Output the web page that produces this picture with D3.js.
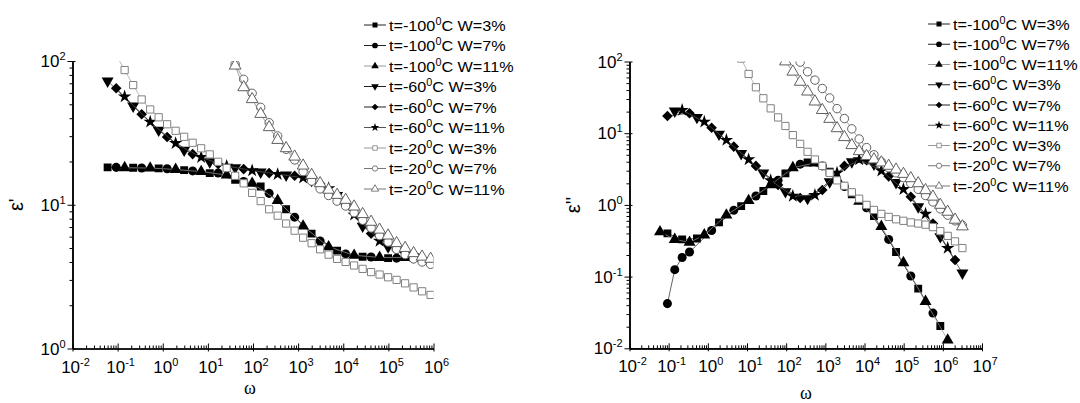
<!DOCTYPE html>
<html>
<head>
<meta charset="utf-8">
<script src="https://cdn.jsdelivr.net/npm/d3@7"></script>
<style>
body { margin: 0; background: #fff; }
text { font-family: "Liberation Sans", Arial, sans-serif; fill: #000; }
</style>
</head>
<body>
<svg id="chart" width="1080" height="403"></svg>
<script>
//** data **//
var _ = null;

// common frequency grid (omega)
var freq = [0.06, 0.093, 0.143, 0.221, 0.341, 0.527, 0.812, 1.25, 1.93, 2.98, 4.6, 7.1, 11, 16.9, 26.1, 40.2, 62.1, 95.7,
    148, 228, 352, 542, 837, 1290, 1990, 3070, 4740, 7310, 11300, 17400, 26900, 41400, 63900, 98600, 152000, 235000,
    362000, 559000, 862000, 1330000, 2050000, 3160000];

// legend
var temps = ["-100", "-100", "-100", "-60", "-60", "-60", "-20", "-20", "-20"];
var waters = ["3", "7", "11", "3", "7", "11", "3", "7", "11"];

// ticks (powers of ten)
var xDecL = [-2, -1, 0, 1, 2, 3, 4, 5, 6];
var yDecL = [0, 1, 2];
var xDecR = [-2, -1, 0, 1, 2, 3, 4, 5, 6, 7];
var yDecR = [-2, -1, 0, 1, 2];

// eps' (left)
var e1_100_3 = [18.2,_,_,18.1,_,_,17.9,_,_,17.4,_,_,16.6,_,_,14.9,_,_,13.4,_,_,9.3,_,_,6.3,_,_,4.8,_,_,4.35,_,_,4.25,_,_,4.25];
var e1_100_7 = [_,18.2,_,_,18.0,_,_,17.8,_,_,17.2,_,_,16.6,_,_,14.5,_,_,12.0,_,_,8.2,_,_,5.6,_,_,4.55,_,_,4.33,_,_,4.25];
var e1_100_11 = [_,_,18.1,_,_,18.0,_,_,17.6,_,_,17.0,_,_,16.1,_,_,14.1,_,_,10.7,_,_,7.1,_,_,5.1,_,_,4.45,_,_,4.3,_,_,4.3];
var e1_60_3 = [72.6,_,_,48.6,_,_,33.0,_,_,24.0,_,_,19.9,_,_,18.1,_,_,16.9,_,_,16.1,_,_,14.8,_,_,11.6,_,_,7.1,_,_,5.1,_,_,4.35];
var e1_60_7 = [_,64.6,_,_,42.6,_,_,29.6,_,_,22.5,_,_,19.2,_,_,17.7,_,_,16.6,_,_,15.9,_,_,14.0,_,_,10.0,_,_,6.3,_,_,4.85,_,_,4.2];
var e1_60_11 = [_,_,56.5,_,_,37.7,_,_,26.8,_,_,21.4,_,_,18.6,_,_,17.3,_,_,16.3,_,_,15.4,_,_,13.0,_,_,8.5,_,_,5.6,_,_,4.55,_,_,4.1];
var e1_20_3 = [_,110,86.5,68,54,46,40.6,36.3,32.7,29.7,27,24.7,22.4,19.9,18.0,15.9,14.1,12.1,10.6,9.3,8.4,7.4,6.6,5.9,5.4,
    4.9,4.5,4.2,4.0,3.78,3.58,3.4,3.27,3.13,3.0,2.84,2.66,2.5,2.36];
var e1_20_7 = [_,_,_,_,_,_,_,_,_,_,_,_,_,_,125,95,74.6,59.6,47.6,37.2,30.1,24.3,20.5,17.0,14.6,12.9,11.6,10.6,9.8,8.8,
    7.8,6.9,6.1,5.5,4.9,4.5,4.2,4.0,3.85];
var e1_20_11 = [_,_,_,_,_,_,_,_,_,_,_,_,_,_,128,92.8,65.6,54.2,42.8,34.6,28.2,24.7,21.6,18.7,16.1,14.1,12.7,11.7,10.8,9.7,
    8.6,7.6,6.7,6.1,5.4,5.0,4.6,4.35,4.2];

// eps'' (right)
var e2_100_3 = [_,0.40,_,0.33,_,0.34,_,_,0.57,_,_,0.96,_,_,1.56,_,_,2.75,_,_,3.9,_,_,2.9,_,_,1.4,_,_,0.70,_,_,0.22,_,_,0.068,_,_,0.0205];
var e2_100_7 = [_,0.042,0.125,0.185,0.22,_,_,0.44,_,_,0.84,_,_,1.33,_,_,2.2,_,_,3.7,_,_,3.5,_,_,1.8,_,_,0.91,_,_,0.33,_,_,0.102,_,_,0.031];
var e2_100_11 = [0.42,_,0.33,_,0.30,_,0.38,_,_,0.72,_,_,1.15,_,_,1.9,_,_,3.3,_,_,3.85,_,_,2.3,_,_,1.12,_,_,0.50,_,_,0.156,_,_,0.045,_,_,0.013];
var e2_60_3 = [_,_,20.4,_,_,16.6,_,_,9.7,_,_,5.2,_,_,2.8,_,_,1.53,_,_,1.23,_,_,2.1,_,_,4.0,_,_,3.7,_,_,2.05,_,_,0.94,_,_,0.36,_,_,0.112];
var e2_60_7 = [_,17.4,_,_,19,_,_,11.9,_,_,6.5,_,_,3.5,_,_,1.9,_,_,1.25,_,_,1.61,_,_,3.5,_,_,4.2,_,_,2.5,_,_,1.3,_,_,0.55,_,_,0.17];
var e2_60_11 = [_,_,_,21,_,_,14.4,_,_,8.0,_,_,4.3,_,_,2.2,_,_,1.33,_,_,1.37,_,_,2.8,_,_,4.3,_,_,3.0,_,_,1.65,_,_,0.75,_,_,0.25];
var e2_20_3 = [_,_,_,_,_,_,_,_,_,_,_,110,67,43.7,30.7,22.2,16.6,12.6,9.4,7.1,5.5,4.3,3.5,2.8,2.2,1.85,1.5,1.22,1.0,0.85,
    0.75,0.68,0.63,0.6,0.57,0.55,0.53,0.49,0.43,0.37,0.31,0.25];
var e2_20_7 = [_,_,_,_,_,_,_,_,_,_,_,_,_,_,_,_,_,_,130,98,72,55,42,31,22,16,11.5,8.3,6.3,5.0,4.0,3.3,2.8,2.4,2.0,1.65,
    1.35,1.1,0.88,0.72,0.6,0.52];
var e2_20_11 = [_,_,_,_,_,_,_,_,_,_,_,_,_,_,_,_,140,100,72,52,38,27.6,21,15.8,11.7,8.8,6.8,5.6,4.8,4.3,3.9,3.5,3.1,2.7,
    2.35,2.0,1.6,1.3,1.0,0.8,0.62,0.5];

//** marker styles, one per legend row **//
var styles = [
    {sym: d3.symbolSquare,   rot: 0,   size: 62, fill: "#000", stroke: "none", line: "#222"},
    {sym: d3.symbolCircle,   rot: 0,   size: 64, fill: "#000", stroke: "none", line: "#222"},
    {sym: d3.symbolTriangle, rot: 0,   size: 62, fill: "#000", stroke: "none", line: "#999"},
    {sym: d3.symbolTriangle, rot: 180, size: 62, fill: "#000", stroke: "none", line: "#222"},
    {sym: d3.symbolSquare,   rot: 45,  size: 56, fill: "#000", stroke: "none", line: "#222"},
    {sym: d3.symbolStar,     rot: 0,   size: 56, fill: "#000", stroke: "none", line: "#555"},
    {sym: d3.symbolSquare,   rot: 0,   size: 52, fill: "#fff", stroke: "#808080", line: "#999"},
    {sym: d3.symbolCircle,   rot: 0,   size: 56, fill: "#fff", stroke: "#606060", line: "#777"},
    {sym: d3.symbolTriangle, rot: 0,   size: 60, fill: "#fff", stroke: "#606060", line: "#777"}
];

var svg = d3.select("#chart");

var panels = [
    {id: "L", x0: 72.5, x1: 433.5, yTop: 61, yBot: 348.5, xDom: [1e-2, 1e6], yDom: [1, 100],
     xDec: xDecL, yDec: yDecL, series: [e1_100_3, e1_100_7, e1_100_11, e1_60_3, e1_60_7, e1_60_11, e1_20_3, e1_20_7, e1_20_11],
     yTitle: "\u03b5'", titleX: 23, wX: 250, wY: 394, legX: 364, legY: 25, legStep: 20.5},
    {id: "R", x0: 629.5, x1: 982, yTop: 61.5, yBot: 348.3, xDom: [1e-2, 1e7], yDom: [1e-2, 100],
     xDec: xDecR, yDec: yDecR, series: [e2_100_3, e2_100_7, e2_100_11, e2_60_3, e2_60_7, e2_60_11, e2_20_3, e2_20_7, e2_20_11],
     yTitle: "\u03b5''", titleX: 580, wX: 806, wY: 399, legX: 928, legY: 24, legStep: 20.25}
];

function tenPow(sel, e, supSize, dy) {
    sel.append("tspan").text("10");
    sel.append("tspan").attr("dy", dy).attr("font-size", supSize).text(e);
}

panels.forEach(function(p) {
    var x = d3.scaleLog().domain(p.xDom).range([p.x0, p.x1]);
    var y = d3.scaleLog().domain(p.yDom).range([p.yBot, p.yTop]);
    var g = svg.append("g");

    // clip to plot area
    svg.append("clipPath").attr("id", "clip" + p.id)
        .append("rect").attr("x", p.x0).attr("y", p.yTop)
        .attr("width", p.x1 - p.x0).attr("height", p.yBot - p.yTop);

    // minor / major ticks
    var xMinor = x.ticks().filter(function(d) { return Math.abs(Math.log10(d) - Math.round(Math.log10(d))) > 1e-6; });
    var yMinor = y.ticks().filter(function(d) { return Math.abs(Math.log10(d) - Math.round(Math.log10(d))) > 1e-6; });
    var xMajor = p.xDec.map(function(e) { return Math.pow(10, e); });
    var yMajor = p.yDec.map(function(e) { return Math.pow(10, e); });

    var xa = g.append("g").attr("transform", "translate(0," + p.yBot + ")");
    xa.append("g").call(d3.axisBottom(x).tickValues(xMinor).tickSizeInner(-3).tickSizeOuter(0).tickFormat(""));
    xa.append("g").call(d3.axisBottom(x).tickValues(xMajor).tickSizeInner(-5).tickSizeOuter(0).tickFormat(""));
    xa.append("g").call(d3.axisBottom(x).tickValues(xMajor).tickSizeInner(3).tickSizeOuter(0).tickFormat(""));

    var ya = g.append("g").attr("transform", "translate(" + p.x0 + ",0)");
    ya.append("g").call(d3.axisLeft(y).tickValues(yMinor).tickSizeInner(3).tickSizeOuter(0).tickFormat(""));
    ya.append("g").call(d3.axisLeft(y).tickValues(yMajor).tickSizeInner(5).tickSizeOuter(0).tickFormat(""));
    ya.append("g").call(d3.axisLeft(y).tickValues(yMajor).tickSizeInner(-3).tickSizeOuter(0).tickFormat(""));
    g.selectAll(".domain").attr("stroke", "#000").attr("stroke-width", 1.2);
    g.selectAll(".tick line").attr("stroke", "#000").attr("stroke-width", 1);

    // tick labels
    p.xDec.forEach(function(e) {
        var t = g.append("text").attr("x", x(Math.pow(10, e)) + 3).attr("y", p.yBot + 24)
            .attr("text-anchor", "middle").attr("font-size", 17);
        tenPow(t, e, 11, -7);
    });
    p.yDec.forEach(function(e) {
        var t = g.append("text").attr("x", p.x0 - 7).attr("y", y(Math.pow(10, e)) + 6)
            .attr("text-anchor", "end").attr("font-size", 17);
        tenPow(t, e, 11, -7);
    });

    // axis titles
    g.append("text").attr("transform", "translate(" + p.titleX + "," + ((p.yTop + p.yBot) / 2) + ") rotate(-90)")
        .attr("text-anchor", "middle").attr("font-size", 20).text(p.yTitle);
    g.append("text").attr("x", p.wX).attr("y", p.wY).attr("text-anchor", "middle")
        .attr("font-size", 18).style("font-family", "'Liberation Serif', serif").text("\u03c9");

    // series
    var plot = g.append("g").attr("clip-path", "url(#clip" + p.id + ")");
    var line = d3.line().x(function(d) { return x(d.w); }).y(function(d) { return y(d.v); });

    p.series.forEach(function(vals, k) {
        var st = styles[k];
        var pts = [];
        vals.forEach(function(v, i) { if (v !== null) pts.push({w: freq[i], v: v}); });
        plot.append("path").datum(pts).attr("d", line)
            .attr("fill", "none").attr("stroke", st.line).attr("stroke-width", 0.7);
        plot.selectAll(".m" + k).data(pts).enter().append("path")
            .attr("class", "m" + k)
            .attr("d", d3.symbol().type(st.sym).size(st.size))
            .attr("transform", function(d) { return "translate(" + x(d.w) + "," + y(d.v) + ") rotate(" + st.rot + ")"; })
            .attr("fill", st.fill).attr("stroke", st.stroke).attr("stroke-width", 1);
    });

    // legend
    var leg = g.append("g");
    temps.forEach(function(t, k) {
        var st = styles[k];
        var ly = p.legY + k * p.legStep;
        leg.append("line").attr("x1", p.legX).attr("x2", p.legX + 22).attr("y1", ly).attr("y2", ly)
            .attr("stroke", st.line).attr("stroke-width", 1);
        leg.append("path").attr("d", d3.symbol().type(st.sym).size(st.size * 0.4))
            .attr("transform", "translate(" + (p.legX + 11) + "," + ly + ") rotate(" + st.rot + ")")
            .attr("fill", st.fill).attr("stroke", st.stroke).attr("stroke-width", 0.8);
        var txt = leg.append("g").attr("transform", "translate(" + (p.legX + 25) + "," + (ly + 5.5) + ") scale(1.08,1)")
            .append("text").attr("font-size", 15);
        txt.append("tspan").text("t=" + t);
        txt.append("tspan").attr("dy", -6).attr("font-size", 10).text("0");
        txt.append("tspan").attr("dy", 6).text("C W=" + waters[k] + "%");
    });
});
</script>
</body>
</html>
